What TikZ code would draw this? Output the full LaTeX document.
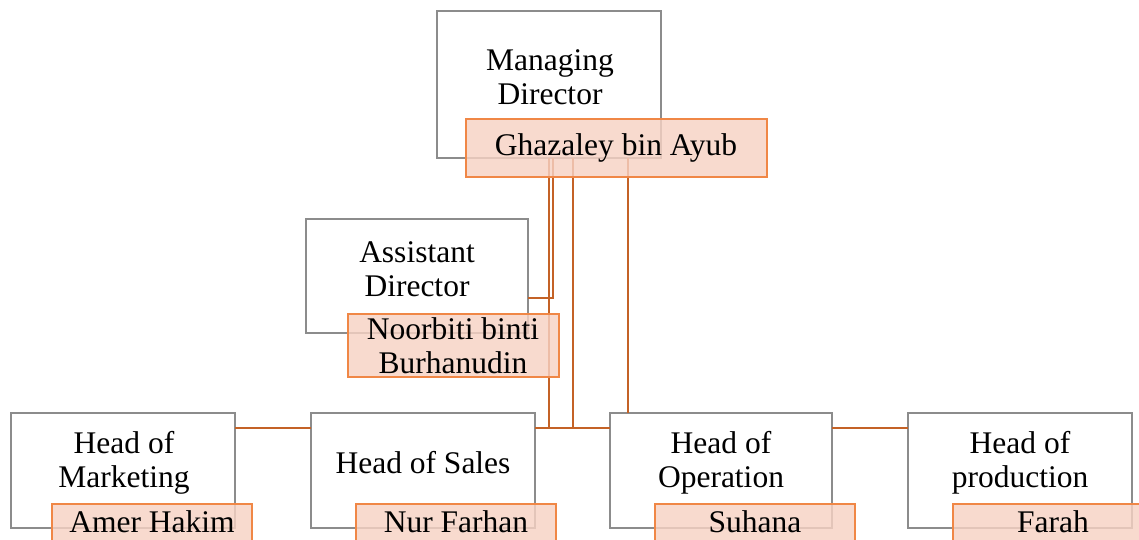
\documentclass[tikz,border=0pt]{standalone}
\usepackage{fontspec}
\setmainfont{Liberation Serif}
\definecolor{boxgray}{RGB}{140,140,140}
\definecolor{namefill}{RGB}{247,210,196}
\definecolor{namedraw}{RGB}{240,135,70}
\definecolor{conncol}{RGB}{196,98,38}
\begin{document}
\begin{tikzpicture}[x=1pt,y=-1pt,
  wbox/.style={draw=boxgray, line width=1.2pt, fill=white, anchor=north west, inner sep=0pt, outer sep=0pt},
  nbox/.style={draw=namedraw, line width=1.2pt, fill=namefill, fill opacity=0.82, draw opacity=1, anchor=north west, inner sep=0pt, outer sep=0pt},
  txt/.style={font=\fontsize{31.5}{34}\selectfont, align=center, inner sep=0pt, text opacity=1},
  conn/.style={draw=conncol, line width=2.7pt}]
\clip (0,0) rectangle (1139,540);
\fill[white] (0,0) rectangle (1139,540);
% white boxes
\node[wbox, minimum width=224pt, minimum height=147pt] (md) at (437,11) {};
\node[wbox, minimum width=222pt, minimum height=114pt] (asst) at (306,219) {};
\node[wbox, minimum width=224pt, minimum height=115pt] (mkt) at (11,413) {};
\node[wbox, minimum width=224pt, minimum height=115pt] (sales) at (311,413) {};
\node[wbox, minimum width=222pt, minimum height=115pt] (ops) at (610,413) {};
\node[wbox, minimum width=224pt, minimum height=115pt] (prod) at (908,413) {};
% helper coordinates
\coordinate (xa) at (549,428);
\coordinate (xb) at (553,298);
\coordinate (xc) at (573,428);
\coordinate (xd) at (628,0);
% connectors
\draw[conn] (md.south -| xa) -- (xa);
\draw[conn] (md.south -| xb) -- (xb) -- (asst.east |- xb);
\draw[conn] (md.south -| xc) -- (xc);
\draw[conn] (md.south -| xd) -- (ops.north -| xd);
\draw[conn] (sales.east |- xa) -- (ops.west |- xa);
\draw[conn] (mkt.east |- xa) -- (sales.west |- xa);
\draw[conn] (ops.east |- xa) -- (prod.west |- xa);
% name boxes
\node[nbox, minimum width=301pt, minimum height=58pt] (mdn) at (466,119) {};
\node[nbox, minimum width=211pt, minimum height=63pt] (asstn) at (348,314) {};
\node[nbox, minimum width=200pt, minimum height=58pt] (mktn) at (52,504) {};
\node[nbox, minimum width=200pt, minimum height=58pt] (salesn) at (356,504) {};
\node[nbox, minimum width=200pt, minimum height=58pt] (opsn) at (655,504) {};
\node[nbox, minimum width=200pt, minimum height=58pt] (prodn) at (953,504) {};
% texts
\node[txt] (mdt) at (550,77) {Managing\\Director};
\node[txt] (mdnt) at (616,148) {Ghazaley bin Ayub};
\node[txt] (asstt) at (417,269) {Assistant\\Director};
\node[txt] (asstnt) at (453,346) {Noorbiti binti\\Burhanudin};
\node[txt] (mktt) at (124,463) {Head of\\Marketing};
\node[txt] (mktnt) at (152,522) {Amer Hakim};
\node[txt] (salest) at (423,463) {Head of Sales};
\node[txt] (salesnt) at (456,522) {Nur Farhan};
\node[txt] (opst) at (721,463) {Head of\\Operation};
\node[txt] (opsnt) at (755,522) {Suhana};
\node[txt] (prodt) at (1020,463) {Head of\\production};
\node[txt] (prodnt) at (1053,522) {Farah};
\end{tikzpicture}
\end{document}
